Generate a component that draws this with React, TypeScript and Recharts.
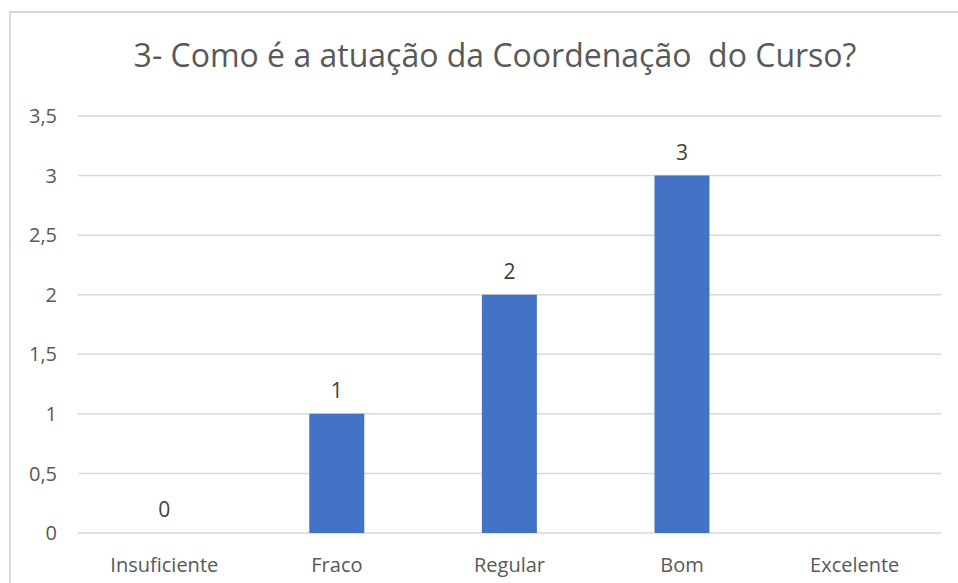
import { BarChart, Bar, XAxis, YAxis, CartesianGrid, LabelList } from "recharts";

const TITLE = "3- Como é a atuação da Coordenação  do Curso?";
const CATEGORIES = ["Insuficiente", "Fraco", "Regular", "Bom", "Excelente"];
const VALUES: (number | null)[] = [0, 1, 2, 3, null];
const Y_TICKS = [0, 0.5, 1, 1.5, 2, 2.5, 3, 3.5];

const BAR_COLOR = "#4472c4";
const TEXT_COLOR = "#595959";
const GRID_COLOR = "#d9d9d9";
const FONT = "'Open Sans', 'Noto Sans', sans-serif";

const data = CATEGORIES.map((name, i) => ({ name, value: VALUES[i] }));

// comma decimals, like the pt-BR spreadsheet
const formatTick = (v: number) => String(v).replace(".", ",");

export default function App() {
  return (
    <div style={{ position: "relative", width: 958, height: 583, overflow: "hidden", fontFamily: FONT }}>
      <style>{"body{margin:0;overflow:hidden;background:#fff}"}</style>
      <div
        style={{
          position: "absolute",
          left: 9,
          top: 11,
          width: 1000,
          height: 700,
          border: `2px solid ${GRID_COLOR}`,
          boxSizing: "border-box",
        }}
      />
      <div
        style={{
          position: "absolute",
          left: 495,
          top: 35,
          transform: "translateX(-50%)",
          whiteSpace: "pre",
          fontSize: 32,
          color: TEXT_COLOR,
          lineHeight: "40px",
        }}
      >
        {TITLE}
      </div>
      <div style={{ position: "absolute", left: 0, top: 0 }}>
        <BarChart
          width={958}
          height={583}
          data={data}
          margin={{ top: 116, right: 17, left: 8, bottom: 0 }}
          barCategoryGap="34%"
        >
          <CartesianGrid vertical={false} stroke={GRID_COLOR} strokeWidth={1.5} />
          <XAxis
            dataKey="name"
            height={50}
            axisLine={false}
            tickLine={false}
            tickMargin={19}
            tick={{ fontSize: 20, fill: TEXT_COLOR, fontFamily: FONT }}
          />
          <YAxis
            width={70}
            domain={[0, 3.5]}
            ticks={Y_TICKS}
            axisLine={false}
            tickLine={false}
            tickMargin={15}
            tickFormatter={formatTick}
            tick={{ fontSize: 20, fill: TEXT_COLOR, fontFamily: FONT }}
          />
          <Bar
            dataKey="value"
            fill={BAR_COLOR}
            isAnimationActive={false}
            minPointSize={(v: number) => (v === 0 ? 0.01 : 0)}
          >
            <LabelList
              dataKey="value"
              position="top"
              offset={16}
              style={{ fontSize: 21, fill: "#404040", fontFamily: FONT }}
            />
          </Bar>
        </BarChart>
      </div>
    </div>
  );
}
